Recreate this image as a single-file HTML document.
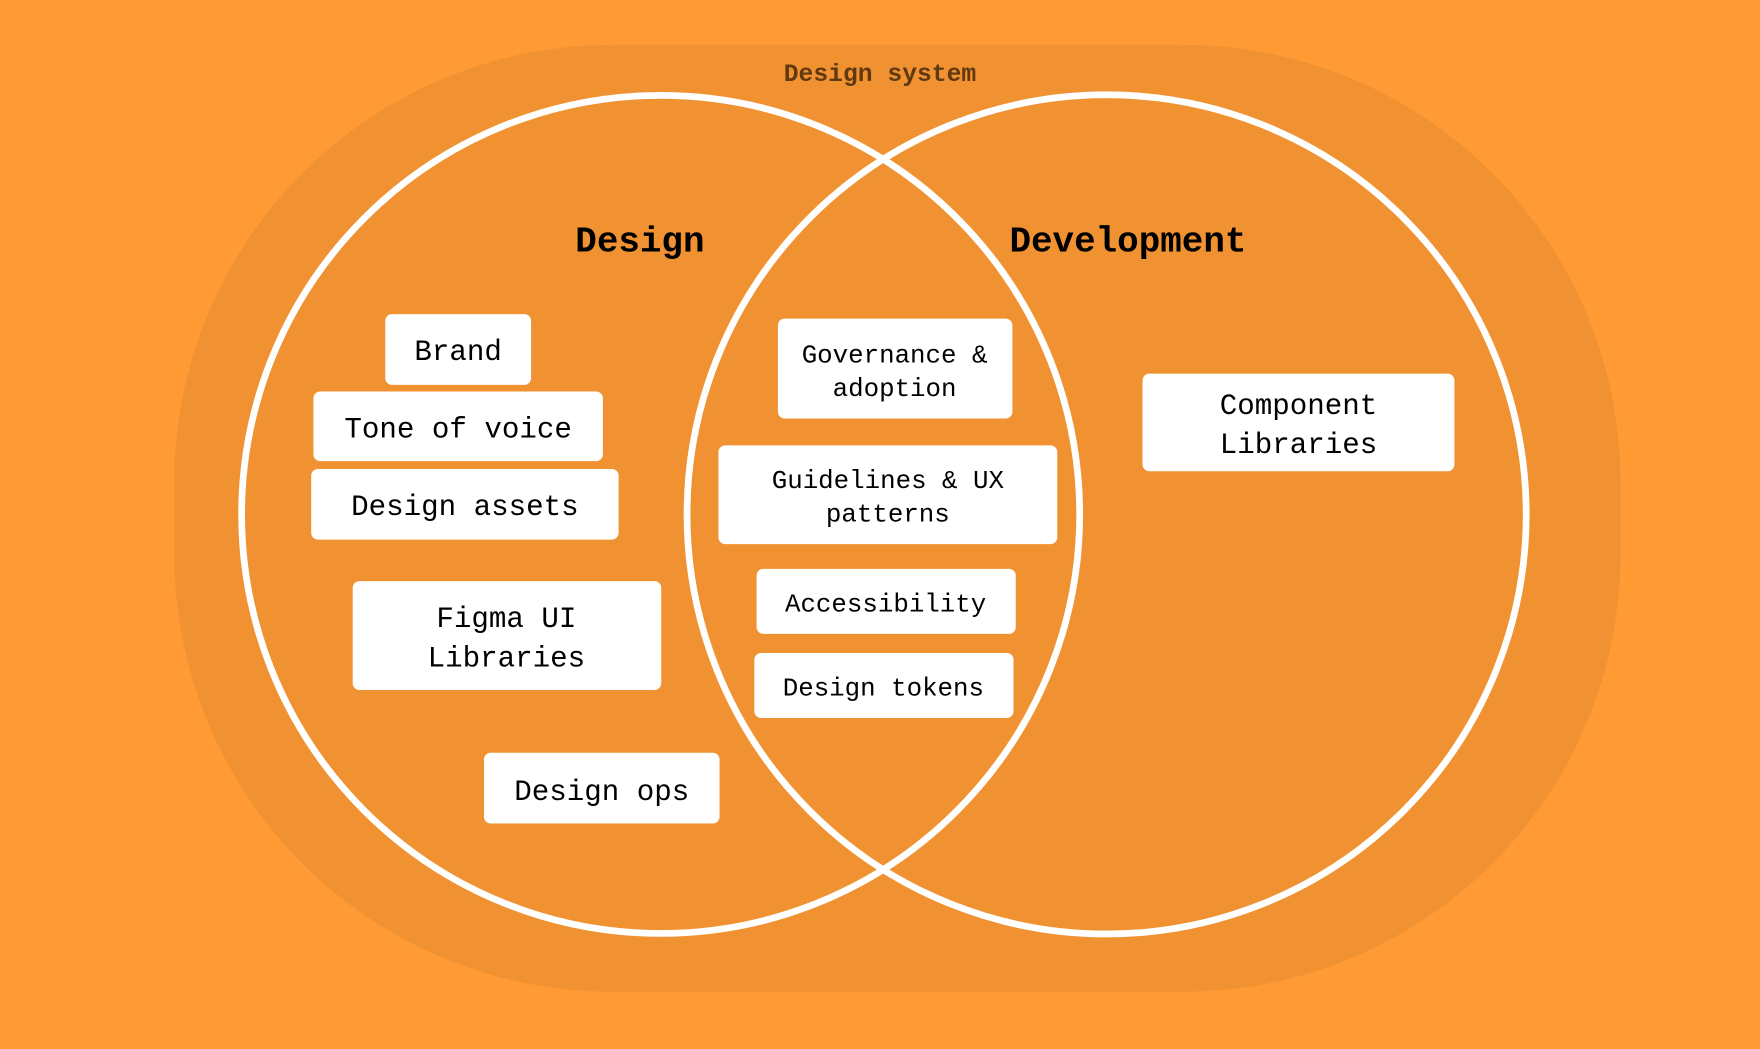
<!DOCTYPE html>
<html><head><meta charset="utf-8"><style>
html,body{margin:0;padding:0;background:#FF9A35;}
svg{display:block;}
text{font-family:"Liberation Mono",monospace;}
</style></head><body>
<svg width="1760" height="1049" viewBox="0 0 1568 935" xmlns="http://www.w3.org/2000/svg">
<rect x="0" y="0" width="1568" height="935" fill="#FF9A35"/>
<rect x="155" y="40" width="1289" height="844" rx="390" ry="390" fill="#F09232"/>
<text x="784" y="72" text-anchor="middle" font-size="22" font-weight="bold" fill="#62390F">Design system</text>
<circle cx="588.5" cy="458.5" r="373.5" fill="none" stroke="#fff" stroke-width="6"/>
<circle cx="986" cy="458.5" r="374" fill="none" stroke="#fff" stroke-width="6"/>
<text x="570" y="224" text-anchor="middle" font-size="32" font-weight="bold" fill="#000">Design</text>
<text x="1005" y="224" text-anchor="middle" font-size="32" font-weight="bold" fill="#000">Development</text>
<g fill="#fff">
<rect x="343" y="280" width="130" height="63" rx="6"/>
<rect x="279" y="349" width="258" height="62" rx="6"/>
<rect x="277" y="418" width="274" height="63" rx="6"/>
<rect x="314" y="518" width="275" height="97" rx="6"/>
<rect x="431" y="671" width="210" height="63" rx="6"/>
<rect x="693" y="284" width="209" height="89" rx="6"/>
<rect x="640" y="397" width="302" height="88" rx="6"/>
<rect x="674" y="507" width="231" height="58" rx="6"/>
<rect x="672" y="582" width="231" height="58" rx="6"/>
<rect x="1018" y="333" width="278" height="87" rx="6"/>
</g>
<g fill="#000" text-anchor="middle" font-size="26">
<text x="408" y="321">Brand</text>
<text x="408" y="390">Tone of voice</text>
<text x="414" y="459">Design assets</text>
<text x="451" y="559">Figma UI</text>
<text x="451" y="594">Libraries</text>
<text x="536" y="713">Design ops</text>
<text x="1157" y="369">Component</text>
<text x="1157" y="404">Libraries</text>
</g>
<g fill="#000" text-anchor="middle" font-size="23">
<text x="797" y="323">Governance &amp;</text>
<text x="797" y="353">adoption</text>
<text x="791" y="435">Guidelines &amp; UX</text>
<text x="791" y="465">patterns</text>
<text x="789" y="545">Accessibility</text>
<text x="787" y="620">Design tokens</text>
</g>
</svg>
</body></html>
